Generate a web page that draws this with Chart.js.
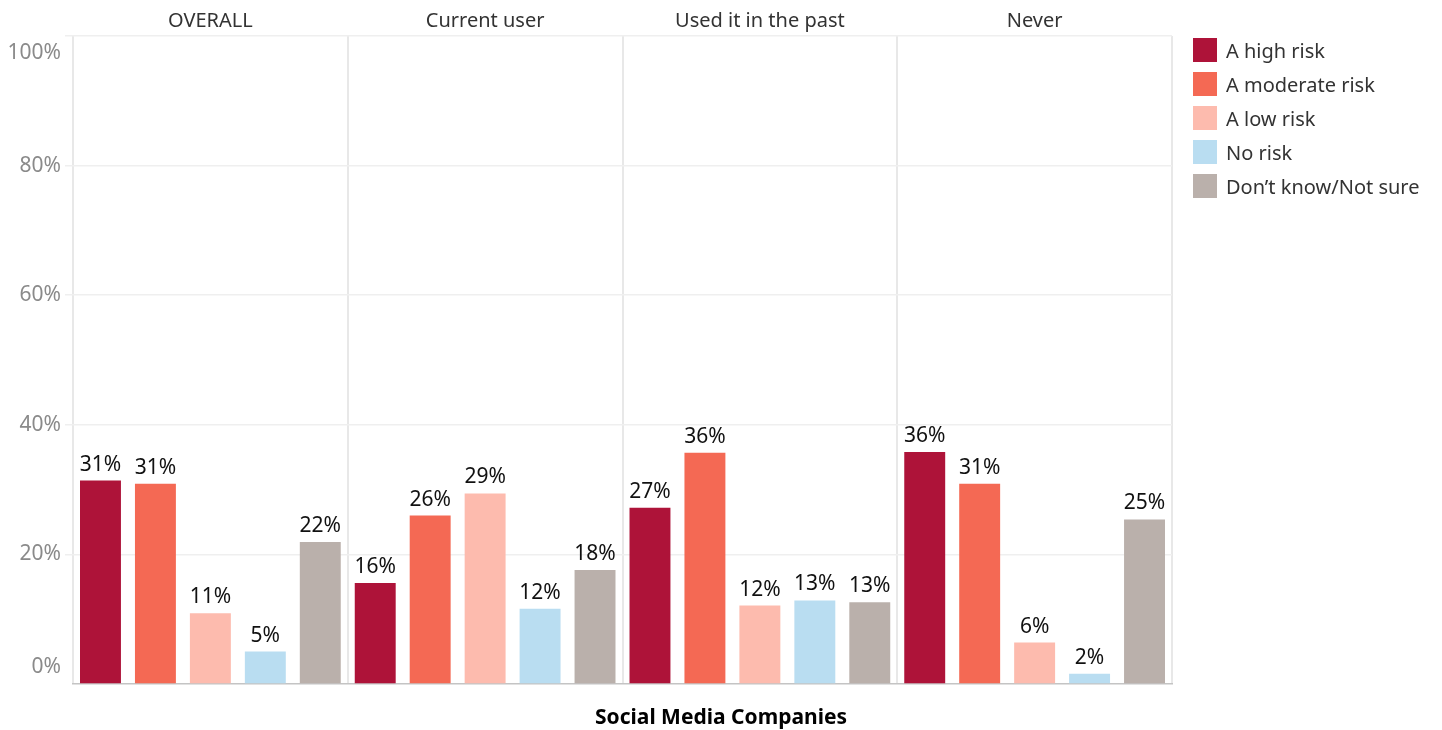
<!DOCTYPE html>
<html>
<head>
<meta charset="utf-8">
<title>Social Media Companies - risk</title>
<script src="https://cdn.jsdelivr.net/npm/chart.js@4.4.1/dist/chart.umd.min.js"></script>
<style>
    html, body { margin: 0; padding: 0; background: #fff; }
    #wrap { position: relative; width: 1442px; height: 730px; }
    #legend {
        position: absolute; left: 1193px; top: 38px;
        font-family: "Noto Sans", sans-serif; font-size: 20px; color: #333;
    }
    #legend .item { display: flex; align-items: center; height: 24px; margin-bottom: 10px; white-space: nowrap; }
    #legend .swatch { width: 24px; height: 24px; margin-right: 9px; }
</style>
</head>
<body>
<div id="wrap">
    <canvas id="risk-chart"></canvas>
    <div id="legend"></div>
</div>
<script>
// Panels along the top and the answers shown in each
const panels = ['OVERALL', 'Current user', 'Used it in the past', 'Never'];
const riskLabels = ['A high risk', 'A moderate risk', 'A low risk', 'No risk', 'Don\u2019t know/Not sure'];

// Share of respondents (%) per panel
const highRisk = [31.4, 15.6, 27.2, 35.8];
const moderateRisk = [30.9, 26.0, 35.7, 30.9];
const lowRisk = [10.9, 29.4, 12.1, 6.4];
const noRisk = [5.0, 11.6, 12.9, 1.6];
const notSure = [21.9, 17.6, 12.6, 25.4];

const yTicks = [0, 20, 40, 60, 80, 100];
const riskColors = ['#ae1339', '#f46954', '#fdbbae', '#b9ddf1', '#bab0ab'];

Chart.defaults.font.family = '"Noto Sans", sans-serif';

// value labels above each bar
const barValueLabels = {
    id: 'barValueLabels',
    afterDatasetsDraw(chart) {
        const ctx = chart.ctx;
        ctx.save();
        ctx.font = '21px "Noto Sans", sans-serif';
        ctx.fillStyle = '#111';
        ctx.textAlign = 'center';
        ctx.textBaseline = 'alphabetic';
        chart.data.datasets.forEach((ds, i) => {
            chart.getDatasetMeta(i).data.forEach((bar, j) => {
                ctx.fillText(Math.round(ds.data[j]) + '%', bar.x, bar.y - 10);
            });
        });
        ctx.restore();
    }
};

function getChartConfig() {
    const series = [highRisk, moderateRisk, lowRisk, noRisk, notSure];
    return {
        type: 'bar',
        data: {
            labels: panels,
            datasets: series.map((values, i) => ({
                label: riskLabels[i],
                data: values,
                backgroundColor: riskColors[i],
                borderWidth: 0,
                barPercentage: 0.745,
                categoryPercentage: 1.0,
                xAxisID: 'x'
            }))
        },
        options: {
            responsive: true,
            maintainAspectRatio: false,
            animation: false,
            layout: { padding: { left: 0, right: 0, top: 6, bottom: 0 } },
            plugins: {
                legend: { display: false },
                tooltip: { enabled: false },
                // centred on the whole canvas, like the original
                title: {
                    display: true,
                    position: 'bottom',
                    text: 'Social Media Companies',
                    color: '#000',
                    font: { size: 21, weight: 'bold', lineHeight: 1.0 },
                    padding: { top: 24, bottom: 1 }
                }
            },
            scales: {
                x: {
                    position: 'top',
                    grid: { offset: true, color: '#e8e8e8', lineWidth: 2, drawTicks: false },
                    border: { display: false },
                    ticks: {
                        color: '#333',
                        font: { size: 20 },
                        padding: 3,
                        maxRotation: 0,
                        autoSkip: false
                    }
                },
                x2: {
                    type: 'category',
                    position: 'bottom',
                    grid: { display: false, drawTicks: false },
                    border: { display: true, color: '#c4c4c4', width: 1.5, dash: [2, 2] },
                    ticks: { display: false }
                },
                y: {
                    min: 0,
                    max: 100,
                    afterBuildTicks: (scale) => {
                        scale.ticks = yTicks.map(v => ({ value: v }));
                    },
                    afterFit: (scale) => { scale.width = 73; },
                    grid: {
                        color: (c) => (c.tick && c.tick.value === 0 ? 'rgba(0,0,0,0)' : '#efefef'),
                        lineWidth: 1.5,
                        tickLength: 8
                    },
                    border: { display: false },
                    ticks: {
                        color: '#8a8a8a',
                        font: { size: 21, lineHeight: 0.8 },
                        padding: 4,
                        // Tableau nudges the end labels inside the plot
                        callback: (v) => {
                            if (v === 100) return ['', '', '100%'];
                            if (v === 0) return ['0%', '', ''];
                            return v + '%';
                        }
                    }
                },
                // empty space on the right that holds the legend
                legendSpace: {
                    position: 'right',
                    display: true,
                    grid: { display: false, drawTicks: false },
                    border: { display: false },
                    ticks: { display: false },
                    afterFit: (scale) => { scale.width = 270; }
                }
            }
        },
        plugins: [barValueLabels]
    };
}

const chart = new Chart(document.getElementById('risk-chart').getContext('2d'), getChartConfig());

// html legend built from the datasets
const legendEl = document.getElementById('legend');
chart.data.datasets.forEach(ds => {
    const item = document.createElement('div');
    item.className = 'item';
    const sw = document.createElement('span');
    sw.className = 'swatch';
    sw.style.background = ds.backgroundColor;
    const txt = document.createElement('span');
    txt.textContent = ds.label;
    item.appendChild(sw);
    item.appendChild(txt);
    legendEl.appendChild(item);
});
</script>
</body>
</html>
